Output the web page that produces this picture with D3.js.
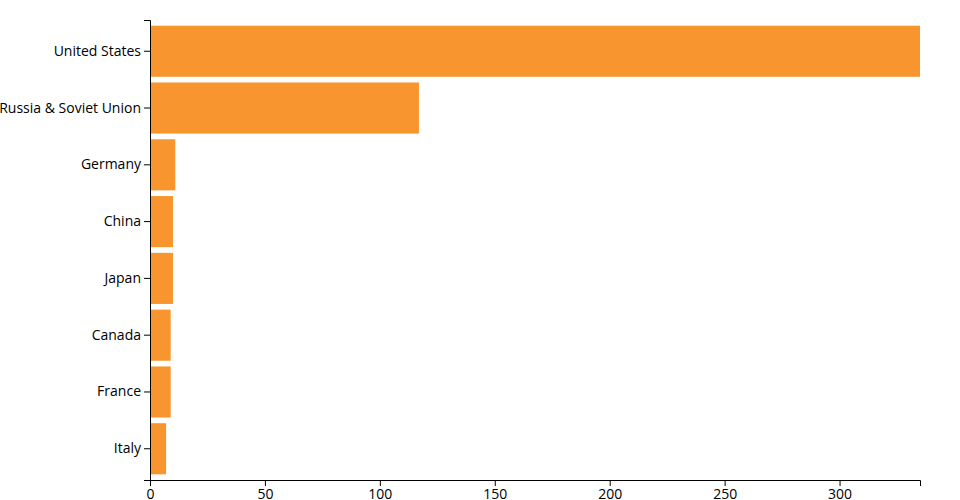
<!DOCTYPE html>
<html>
<head>
<meta charset="utf-8">
<script src="https://cdn.jsdelivr.net/npm/d3@7"></script>
<style>
  body { margin: 0; background: #fff; }
  .axis text { font-family: "Open Sans", sans-serif; font-size: 14px; fill: #000; }
</style>
</head>
<body>
<div id="chart"></div>
<script>
// data
const countries = ["United States", "Russia & Soviet Union", "Germany", "China", "Japan", "Canada", "France", "Italy"];
const values = [335, 117, 11, 10, 10, 9, 9, 7];

const width = 960, height = 500;
const margin = { top: 20, right: 40, bottom: 20, left: 150 };

const rows = countries.map((c, i) => ({ name: c, value: values[i] }));

const svg = d3.select("#chart").append("svg")
    .attr("width", width)
    .attr("height", height);

const x = d3.scaleLinear()
    .domain([0, d3.max(values)])
    .range([margin.left, width - margin.right]);

const y = d3.scaleBand()
    .domain(countries)
    .range([margin.top, height - margin.bottom])
    .padding(0.1);

svg.append("g")
    .selectAll("rect")
    .data(rows)
    .join("rect")
    .attr("x", x(0))
    .attr("y", d => y(d.name))
    .attr("width", d => x(d.value) - x(0))
    .attr("height", y.bandwidth())
    .attr("fill", "#f9952f");

svg.append("g")
    .attr("class", "axis")
    .attr("transform", `translate(0,${height - margin.bottom})`)
    .call(d3.axisBottom(x).ticks(7));

svg.append("g")
    .attr("class", "axis")
    .attr("transform", `translate(${margin.left},0)`)
    .call(d3.axisLeft(y));

svg.selectAll(".axis").attr("font-family", null).attr("font-size", null);
</script>
</body>
</html>
